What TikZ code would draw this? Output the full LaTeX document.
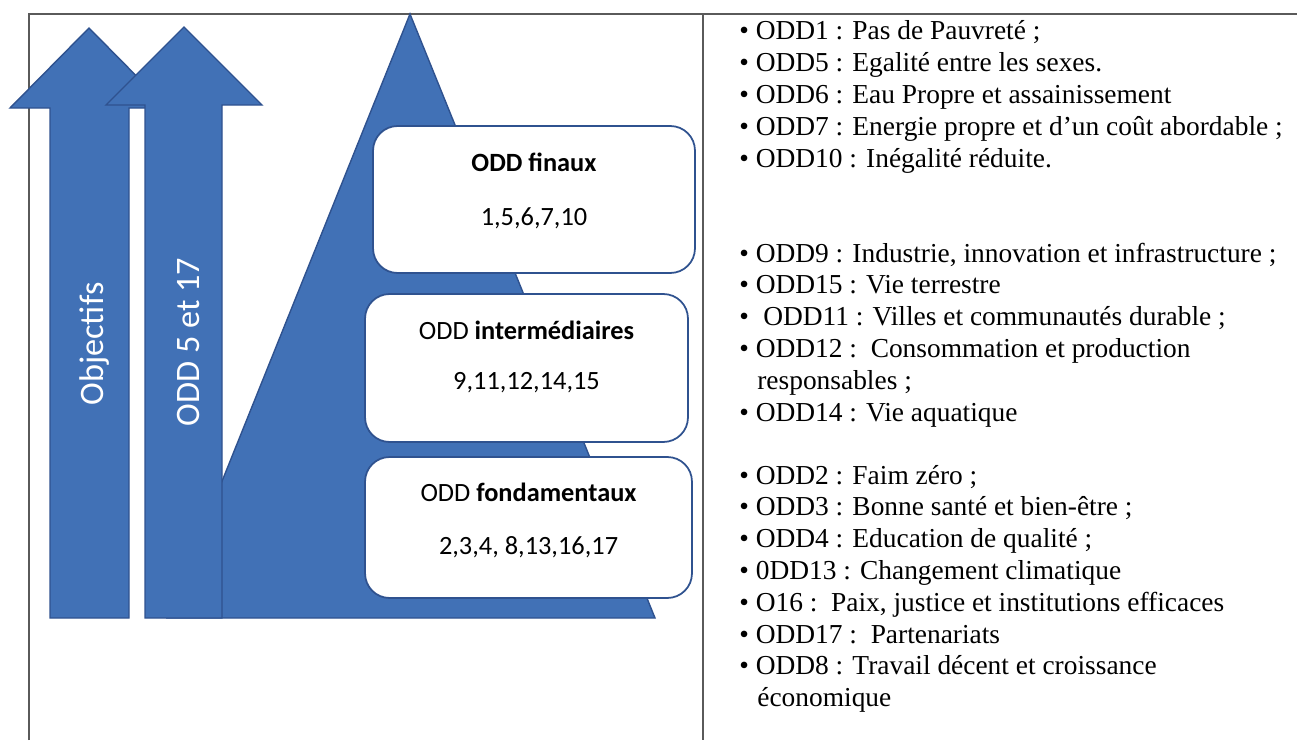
\documentclass[tikz,border=0pt]{standalone}
\usepackage{fontspec}
\setmainfont{Liberation Serif}
\newfontfamily\calibri{Carlito}
\usetikzlibrary{positioning}

\definecolor{oddblue}{RGB}{65,113,182}
\definecolor{oddedge}{RGB}{47,82,143}
\definecolor{oddline}{RGB}{90,90,90}

\tikzset{
   blueshape/.style={fill=oddblue, draw=oddedge, line width=0.8pt, line join=miter},
   levelbox/.style={draw=oddedge, fill=white, line width=1pt, rounded corners=14pt},
   boxtitle/.style={font=\calibri\fontsize{15}{18}\selectfont, inner sep=0pt},
   arrowlabel/.style={font=\calibri\fontsize{19.5}{23}\selectfont, text=white,
      rotate=90, anchor=base, inner sep=0pt},
   odditem/.style={font=\fontsize{15.6}{18}\selectfont, anchor=base west, inner sep=0pt},
   tableline/.style={draw=oddline, line width=0.8pt}
}

\begin{document}
\begin{tikzpicture}[x=0.02cm, y=-0.02cm]
   \useasboundingbox (0,0) rectangle (1297,740);

   % table frame
   \coordinate (tl) at (29,14);
   \coordinate (tr) at (1297,14);
   \coordinate (bl) at (29,740);
   \coordinate (tm) at (703,14);
   \coordinate (bm) at (703,740);
   \draw[tableline] (bl) -- (tl) -- (tr);
   \draw[tableline] (tm) -- (bm);

   % pyramid
   \draw[blueshape] (410,14) -- (655,618) -- (167,618) -- cycle;

   % the two up arrows
   \draw[blueshape] (89,28) -- (168,108) -- (129,108) -- (129,618)
      -- (50,618) -- (50,108) -- (10,108) -- cycle;
   \draw[blueshape] (184,27) -- (262,105) -- (222,105) -- (222,618)
      -- (145,618) -- (145,105) -- (106,105) -- cycle;
   \node[arrowlabel] (obj)    at (103,344) {Objectifs};
   \node[arrowlabel] (odd517) at (199,342) {ODD 5 et 17};

   % levels
   \node[levelbox, minimum width=6.44cm, minimum height=2.94cm] (fin) at (534,199.5) {};
   \node[levelbox, minimum width=6.46cm, minimum height=2.96cm] (inter) at (526.5,368) {};
   \node[levelbox, minimum width=6.54cm, minimum height=2.82cm] (fond) at (528.5,527.5) {};

   \node[boxtitle] (fint)   at ([yshift=-0.74cm]fin.north) {\textbf{ODD finaux}};
   \node[boxtitle] (finn)   at ([yshift=-1.86cm]fin.north) {1,5,6,7,10};
   \node[boxtitle] (intert) at ([yshift=-0.74cm]inter.north) {ODD \textbf{intermédiaires}};
   \node[boxtitle] (intern) at ([yshift=-1.80cm]inter.north) {9,11,12,14,15};
   \node[boxtitle] (fondt)  at ([yshift=-0.72cm]fond.north) {ODD \textbf{fondamentaux}};
   \node[boxtitle] (fondn)  at ([yshift=-1.82cm]fond.north) {2,3,4, 8,13,16,17};

   % list of goals, final level
   \foreach \x/\t [count=\i] in {
      739/{• ODD1 : Pas de Pauvreté ;},
      739/{• ODD5 : Egalité entre les sexes.},
      739/{• ODD6 : Eau Propre et assainissement},
      739/{• ODD7 : Energie propre et d’un coût abordable ;},
      739/{• ODD10 : Inégalité réduite.}}
      \node[odditem] (fa\i) at (\x,{40+31.8*(\i-1)}) {\t};

   % intermediate level
   \foreach \x/\t [count=\i] in {
      739/{• ODD9 : Industrie, innovation et infrastructure ;},
      739/{• ODD15 : Vie terrestre},
      739/{•~\hspace{4.3pt}ODD11 : Villes et communautés durable ;},
      739/{• ODD12 :~~Consommation et production},
      757/{responsables ;},
      739/{• ODD14 : Vie aquatique}}
      \node[odditem] (ia\i) at (\x,{262+31.8*(\i-1)}) {\t};

   % basic level
   \foreach \x/\t [count=\i] in {
      739/{• ODD2 : Faim zéro ;},
      739/{• ODD3 : Bonne santé et bien-être ;},
      739/{• ODD4 : Education de qualité ;},
      739/{• 0DD13 : Changement climatique},
      739/{• O16 :~~Paix, justice et institutions efficaces},
      739/{• ODD17 :~~Partenariats},
      739/{• ODD8 : Travail décent et croissance},
      757/{économique}}
      \node[odditem] (ba\i) at (\x,{484+31.8*(\i-1)}) {\t};
\end{tikzpicture}
\end{document}
